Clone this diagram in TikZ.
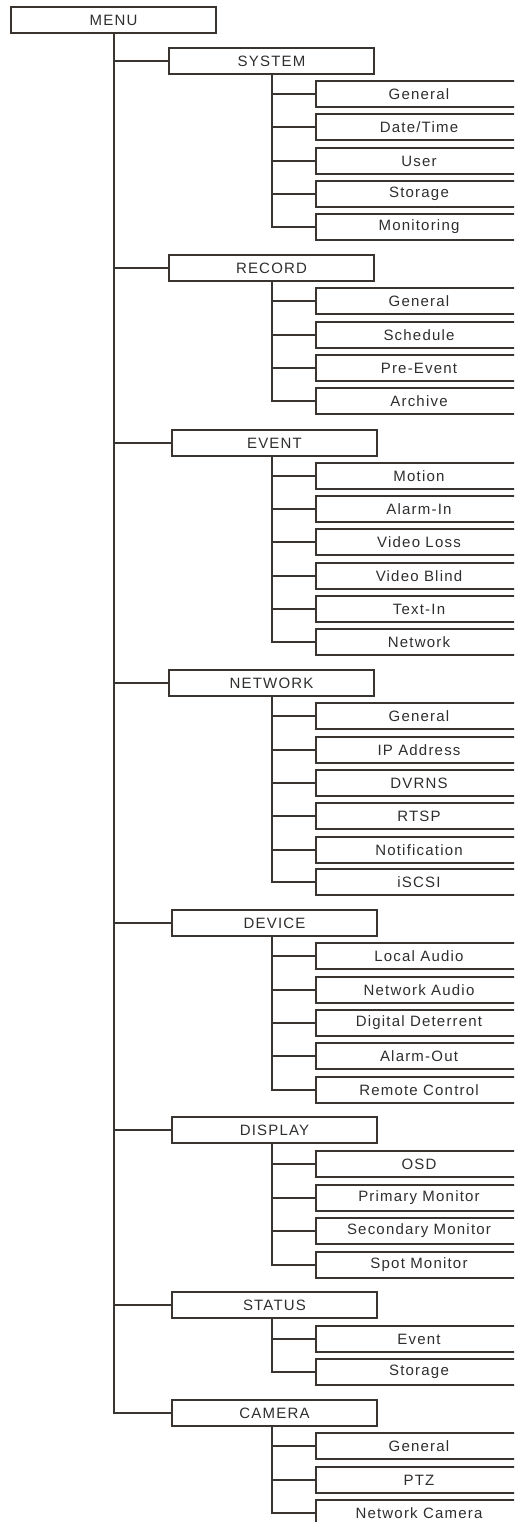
\documentclass[tikz,border=0pt]{standalone}
\usepackage{fontspec}
\setmainfont{Liberation Sans}[LetterSpace=8]
\definecolor{ln}{HTML}{3A3430}
\definecolor{tx}{HTML}{2E2E2E}
\tikzset{
  box/.style={draw=ln, line width=1.4pt, rectangle, minimum width=205pt, minimum height=26pt, inner sep=0pt, text=tx, font=\fontsize{15pt}{16pt}\selectfont},
  leaf/.style={box, minimum width=206pt},
  conn/.style={draw=ln, line width=1.4pt}
}
\begin{document}
\begin{tikzpicture}[x=1pt,y=-1pt]
\useasboundingbox (0,0) rectangle (514,1522);
\clip (0,0) rectangle (514,1522);
% top
\node[box] (menu) at (113.5,20) {MENU};
% SYSTEM
\node[box] (sys) at (271.5,61) {SYSTEM};
\node[leaf] (s1) at (419,94) {General};
\node[leaf] (s2) at (419,127) {Date/Time};
\node[leaf] (s3) at (419,161) {User};
\node[leaf] (s4) at (419,194) {Storage};
\node[leaf] (s5) at (419,227) {Monitoring};
% RECORD
\node[box] (rec) at (271.5,268) {RECORD};
\node[leaf] (r1) at (419,301) {General};
\node[leaf] (r2) at (419,335) {Schedule};
\node[leaf] (r3) at (419,368) {Pre-Event};
\node[leaf] (r4) at (419,401) {Archive};
% EVENT
\node[box] (ev) at (274.5,443) {EVENT};
\node[leaf] (e1) at (419,476) {Motion};
\node[leaf] (e2) at (419,509) {Alarm-In};
\node[leaf] (e3) at (419,542) {Video Loss};
\node[leaf] (e4) at (419,576) {Video Blind};
\node[leaf] (e5) at (419,609) {Text-In};
\node[leaf] (e6) at (419,642) {Network};
% NETWORK
\node[box] (net) at (271.5,683) {NETWORK};
\node[leaf] (n1) at (419,716) {General};
\node[leaf] (n2) at (419,750) {IP Address};
\node[leaf] (n3) at (419,783) {DVRNS};
\node[leaf] (n4) at (419,816) {RTSP};
\node[leaf] (n5) at (419,850) {Notification};
\node[leaf] (n6) at (419,882) {iSCSI};
% DEVICE
\node[box] (dev) at (274.5,923) {DEVICE};
\node[leaf] (d1) at (419,956) {Local Audio};
\node[leaf] (d2) at (419,990) {Network Audio};
\node[leaf] (d3) at (419,1023) {Digital Deterrent};
\node[leaf] (d4) at (419,1056) {Alarm-Out};
\node[leaf] (d5) at (419,1090) {Remote Control};
% DISPLAY
\node[box] (dis) at (274.5,1130) {DISPLAY};
\node[leaf] (p1) at (419,1164) {OSD};
\node[leaf] (p2) at (419,1198) {Primary Monitor};
\node[leaf] (p3) at (419,1231) {Secondary Monitor};
\node[leaf] (p4) at (419,1265) {Spot Monitor};
% STATUS
\node[box] (sta) at (274.5,1305) {STATUS};
\node[leaf] (t1) at (419,1339) {Event};
\node[leaf] (t2) at (419,1372) {Storage};
% CAMERA
\node[box] (cam) at (274.5,1413) {CAMERA};
\node[leaf] (c1) at (419,1446) {General};
\node[leaf] (c2) at (419,1480) {PTZ};
\node[leaf] (c3) at (419,1513) {Network Camera};
% sub-trunk tops
\coordinate (sysT) at (272,74);
\coordinate (recT) at (272,281);
\coordinate (evT) at (272,456);
\coordinate (netT) at (272,696);
\coordinate (devT) at (272,936);
\coordinate (disT) at (272,1143);
\coordinate (staT) at (272,1318);
\coordinate (camT) at (272,1426);
\coordinate (menuT) at (114,33);
% main trunk
\draw[conn] (menuT) |- (cam.west);
\foreach \m in {sys,rec,ev,net,dev,dis,sta}
  \draw[conn] (menuT |- \m.west) -- (\m.west);
% sub-trunks
\draw[conn] (sysT) |- (s5.west);
\foreach \l in {s1,s2,s3,s4} \draw[conn] (sysT |- \l.west) -- (\l.west);
\draw[conn] (recT) |- (r4.west);
\foreach \l in {r1,r2,r3} \draw[conn] (recT |- \l.west) -- (\l.west);
\draw[conn] (evT) |- (e6.west);
\foreach \l in {e1,e2,e3,e4,e5} \draw[conn] (evT |- \l.west) -- (\l.west);
\draw[conn] (netT) |- (n6.west);
\foreach \l in {n1,n2,n3,n4,n5} \draw[conn] (netT |- \l.west) -- (\l.west);
\draw[conn] (devT) |- (d5.west);
\foreach \l in {d1,d2,d3,d4} \draw[conn] (devT |- \l.west) -- (\l.west);
\draw[conn] (disT) |- (p4.west);
\foreach \l in {p1,p2,p3} \draw[conn] (disT |- \l.west) -- (\l.west);
\draw[conn] (staT) |- (t2.west);
\draw[conn] (staT |- t1.west) -- (t1.west);
\draw[conn] (camT) |- (c3.west);
\foreach \l in {c1,c2} \draw[conn] (camT |- \l.west) -- (\l.west);
\end{tikzpicture}
\end{document}
